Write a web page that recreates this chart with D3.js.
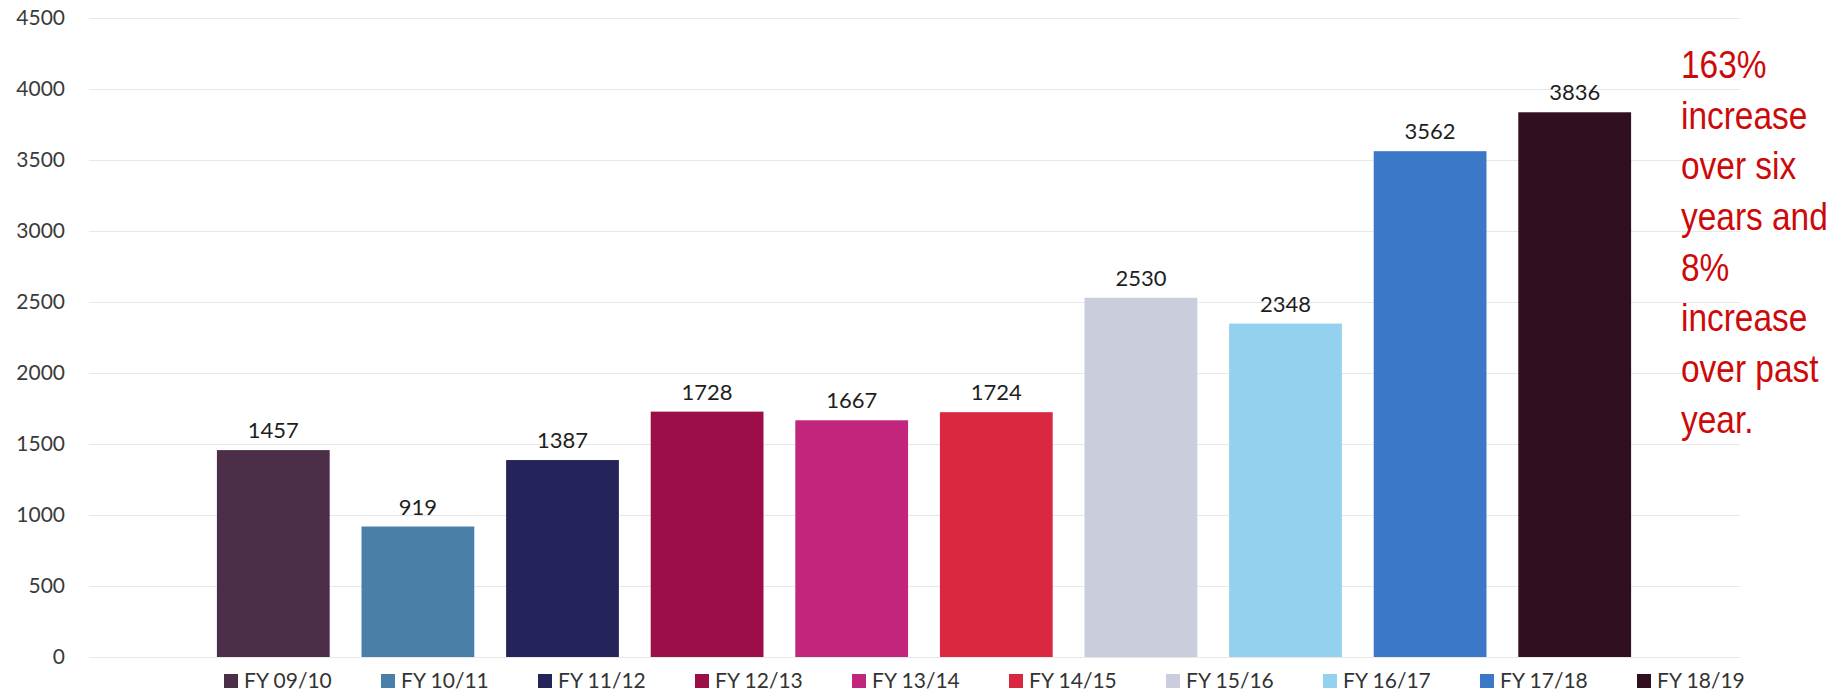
<!DOCTYPE html>
<html>
<head>
<meta charset="utf-8">
<script src="https://cdn.jsdelivr.net/npm/d3@7"></script>
<style>
  body { margin: 0; background: #fff; }
  svg { display: block; }
</style>
</head>
<body>
<svg id="chart" width="1848" height="696"></svg>
<script>
var years = ["FY 09/10", "FY 10/11", "FY 11/12", "FY 12/13", "FY 13/14",
             "FY 14/15", "FY 15/16", "FY 16/17", "FY 17/18", "FY 18/19"];
var counts = [1457, 919, 1387, 1728, 1667, 1724, 2530, 2348, 3562, 3836];
var colours = ["#4d2e49", "#4a7fa8", "#25245a", "#9c0e47", "#c2267c",
               "#d9283f", "#c9cddc", "#93d1ee", "#3b79c8", "#2f0f20"];
var yTicks = [0, 500, 1000, 1500, 2000, 2500, 3000, 3500, 4000, 4500];
var note = ["163%", "increase", "over six", "years and", "8%", "increase", "over past", "year."];

function load() {
  var svg = d3.select("#chart");

  var y = d3.scaleLinear().domain([0, 4500]).range([657, 18]);
  var x = d3.scaleBand().domain(years).range([201, 1647])
    .paddingInner(0.22).paddingOuter(0.11);

  // gridlines + tick labels
  var yAxis = d3.axisLeft(y).tickValues(yTicks).tickFormat(d3.format("d"))
    .tickSize(-1651).tickPadding(24);
  var g = svg.append("g").attr("transform", "translate(89,0)").call(yAxis);
  g.select(".domain").remove();
  g.selectAll(".tick line").attr("stroke", "#e8e8e8").attr("stroke-width", 1.2);
  g.selectAll(".tick text")
    .attr("fill", "#3a3a3a")
    .style("font-family", "Lato, sans-serif")
    .style("font-size", "21px");

  // bars
  svg.selectAll("rect.bar").data(years).enter().append("rect")
    .attr("class", "bar")
    .attr("x", function(d) { return x(d); })
    .attr("y", function(d, i) { return y(counts[i]); })
    .attr("width", x.bandwidth())
    .attr("height", function(d, i) { return y(0) - y(counts[i]); })
    .style("fill", function(d, i) { return colours[i]; });

  // value labels
  svg.selectAll("text.val").data(years).enter().append("text")
    .attr("class", "val")
    .attr("x", function(d) { return x(d) + x.bandwidth() / 2; })
    .attr("y", function(d, i) { return y(counts[i]) - 12; })
    .attr("text-anchor", "middle")
    .style("font-family", "Lato, sans-serif")
    .style("font-size", "22px")
    .style("fill", "#1e1e1e")
    .text(function(d, i) { return counts[i]; });

  // legend
  var leg = svg.append("g").attr("transform", "translate(224,681)");
  var item = leg.selectAll("g").data(years).enter().append("g")
    .attr("transform", function(d, i) { return "translate(" + (i * 157) + ",0)"; });
  item.append("rect")
    .attr("x", 0).attr("y", -7).attr("width", 14).attr("height", 14)
    .style("fill", function(d, i) { return colours[i]; });
  item.append("text")
    .attr("x", 20).attr("y", 7)
    .style("font-family", "Lato, sans-serif")
    .style("font-size", "21px")
    .style("fill", "#333")
    .text(function(d) { return d; });

  // red note
  var t = svg.append("g").attr("transform", "translate(1681,0) scale(0.88,1)");
  t.selectAll("text").data(note).enter().append("text")
    .attr("x", 0)
    .attr("y", function(d, i) { return 78 + i * 50.7; })
    .style("font-family", "'Liberation Sans', Arial, sans-serif")
    .style("font-size", "38px")
    .style("fill", "#cc0a0a")
    .text(function(d) { return d; });
}

load();
</script>
</body>
</html>
